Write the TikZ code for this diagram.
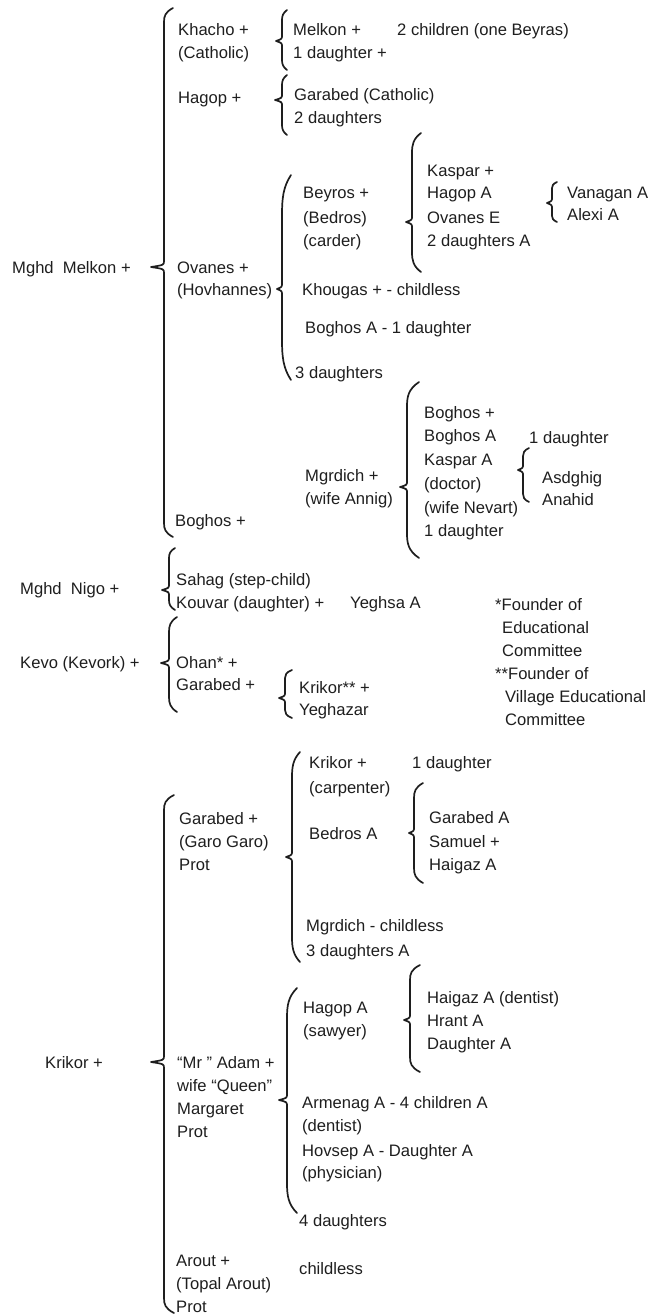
\documentclass[tikz,border=0pt]{standalone}
\usepackage{fontspec}
\setmainfont{Liberation Sans}
\definecolor{ink}{HTML}{1E1E1E}
\newcommand{\brc}[7]{%
  \draw[brc] ({#1+#6},{#2}) .. controls ({#1+1},{#2+0.3*#7}) and ({#1},{#2+0.6*#7}) .. ({#1},{#2+#7})
    -- ({#1},{#3-6}) .. controls ({#1},{#3-2}) .. ({#1-#5},{#3})
    .. controls ({#1},{#3+2}) .. ({#1},{#3+6})
    -- ({#1},{#4-#7}) .. controls ({#1},{#4-0.6*#7}) and ({#1+1},{#4-0.3*#7}) .. ({#1+#6},{#4});}
\begin{document}
\begin{tikzpicture}[x=1pt,y=-1pt,
  t/.style={anchor=base west,inner sep=0pt,text=ink,font=\fontsize{16.6}{23}\selectfont},
  brc/.style={draw=ink,line width=1.7pt,line cap=round,line join=round}]
\useasboundingbox (0,0) rectangle (669,1316);
% ---------- column A ----------
\node[t] (melkon) at (12,273) {Mghd\ \ Melkon +};
\node[t] (nigo) at (20,594) {Mghd\ \ Nigo +};
\node[t] (kevo) at (20,668) {Kevo (Kevork) +};
\node[t] (krikor) at (45,1068) {Krikor +};
% ---------- column B ----------
\node[t] (khacho) at (178,36) {Khacho +};
\node[t] (khachoc) at (178,59) {(Catholic)};
\node[t] (hagop) at (178,104) {Hagop +};
\node[t] (ovanes) at (177,273) {Ovanes +};
\node[t] (hovh) at (177,295) {(Hovhannes)};
\node[t] (boghos) at (175,526) {Boghos +};
\node[t] (sahag) at (176,585) {Sahag (step-child)};
\node[t] (kouvar) at (176,608) {Kouvar (daughter) +};
\node[t] (yeghsa) at (350,608) {Yeghsa A};
\node[t] (ohan) at (176,668) {Ohan* +};
\node[t] (garabedk) at (176,690) {Garabed +};
\node[t] (garabed) at (179,824) {Garabed +};
\node[t] (garo) at (179,847) {(Garo Garo)};
\node[t] (prota) at (179,870) {Prot};
\node[t] (adam) at (177,1068) {“Mr ” Adam +};
\node[t] (queen) at (177,1091) {wife “Queen”};
\node[t] (margaret) at (177,1114) {Margaret};
\node[t] (protb) at (177,1137) {Prot};
\node[t] (arout) at (176,1266) {Arout +};
\node[t] (topal) at (176,1289) {(Topal Arout)};
\node[t] (protc) at (176,1312) {Prot};
% ---------- column C ----------
\node[t] (melkonjr) at (293,36) {Melkon +};
\node[t] (twochild) at (397,36) {2 children (one Beyras)};
\node[t] (onedau) at (293,59) {1 daughter +};
\node[t] (garabedc) at (294,101) {Garabed (Catholic)};
\node[t] (twodau) at (294,124) {2 daughters};
\node[t] (beyros) at (303,199) {Beyros +};
\node[t] (bedros) at (303,223) {(Bedros)};
\node[t] (carder) at (303,246) {(carder)};
\node[t] (khougas) at (302,295) {Khougas + - childless};
\node[t] (boghosa) at (305,333) {Boghos A - 1 daughter};
\node[t] (threedau) at (295,378) {3 daughters};
\node[t] (mgrdich) at (305,481) {Mgrdich +};
\node[t] (annig) at (305,504) {(wife Annig)};
\node[t] (krikorss) at (299,693) {Krikor** +};
\node[t] (yeghazar) at (299,715) {Yeghazar};
\node[t] (krikorc) at (309,768) {Krikor +};
\node[t] (carpenter) at (309,793) {(carpenter)};
\node[t] (onedauc) at (412,768) {1 daughter};
\node[t] (bedrosa) at (309,839) {Bedros A};
\node[t] (mgrdichc) at (306,931) {Mgrdich - childless};
\node[t] (threedaua) at (306,956) {3 daughters A};
\node[t] (hagopa) at (303,1013) {Hagop A};
\node[t] (sawyer) at (303,1036) {(sawyer)};
\node[t] (armenag) at (302,1108) {Armenag A - 4 children A};
\node[t] (dentist) at (302,1131) {(dentist)};
\node[t] (hovsep) at (302,1156) {Hovsep A - Daughter A};
\node[t] (physician) at (302,1178) {(physician)};
\node[t] (fourdau) at (299,1226) {4 daughters};
\node[t] (childless) at (299,1274) {childless};
% ---------- column D ----------
\node[t] (kaspar) at (427,177) {Kaspar +};
\node[t] (hagopa2) at (427,199) {Hagop A};
\node[t] (ovanese) at (427,223) {Ovanes E};
\node[t] (twodaua) at (427,246) {2 daughters A};
\node[t] (vanagan) at (567,199) {Vanagan A};
\node[t] (alexi) at (567,220) {Alexi A};
\node[t] (boghosd) at (424,418) {Boghos +};
\node[t] (boghosad) at (424,441) {Boghos A};
\node[t] (kaspara) at (424,465) {Kaspar A};
\node[t] (doctor) at (424,489) {(doctor)};
\node[t] (nevart) at (424,513) {(wife Nevart)};
\node[t] (onedaud) at (424,536) {1 daughter};
\node[t] (onedaue) at (529,443) {1 daughter};
\node[t] (asdghig) at (542,483) {Asdghig};
\node[t] (anahid) at (542,505) {Anahid};
\node[t] (garabeda) at (429,823) {Garabed A};
\node[t] (samuel) at (429,847) {Samuel +};
\node[t] (haigaz) at (429,870) {Haigaz A};
\node[t] (haigazd) at (427,1003) {Haigaz A (dentist)};
\node[t] (hrant) at (427,1026) {Hrant A};
\node[t] (daughtera) at (427,1049) {Daughter A};
% ---------- notes ----------
\node[t] (fa) at (495,610) {*Founder of};
\node[t] (fb) at (502,633) {Educational};
\node[t] (fc) at (502,656) {Committee};
\node[t] (fd) at (495,679) {**Founder of};
\node[t] (fe) at (505,702) {Village Educational};
\node[t] (ff) at (505,725) {Committee};
% ---------- braces: x, top, tip, bottom, depth, hook, radius ----------
\brc{164}{8}{267}{537}{13}{9}{14}
\brc{282}{10}{41}{70}{6}{5}{10}
\brc{282}{75}{100}{135}{7}{5}{10}
\brc{282}{175}{289}{380}{5}{9}{40}
\brc{412}{133}{222}{272}{6}{9}{20}
\brc{552}{182}{203}{222}{5}{5}{6}
\brc{407}{382}{487}{558}{7}{12}{25}
\brc{523}{448}{470}{502}{5}{6}{8}
\brc{169}{548}{590}{610}{7}{6}{10}
\brc{169}{617}{663}{712}{8}{8}{15}
\brc{285}{670}{698}{718}{6}{7}{8}
\brc{164}{795}{1062}{1313}{13}{10}{15}
\brc{292}{752}{857}{962}{6}{8}{25}
\brc{414}{783}{833}{883}{5}{9}{15}
\brc{410}{965}{1020}{1072}{6}{10}{15}
\brc{287}{988}{1100}{1213}{8}{10}{30}
\end{tikzpicture}
\end{document}
